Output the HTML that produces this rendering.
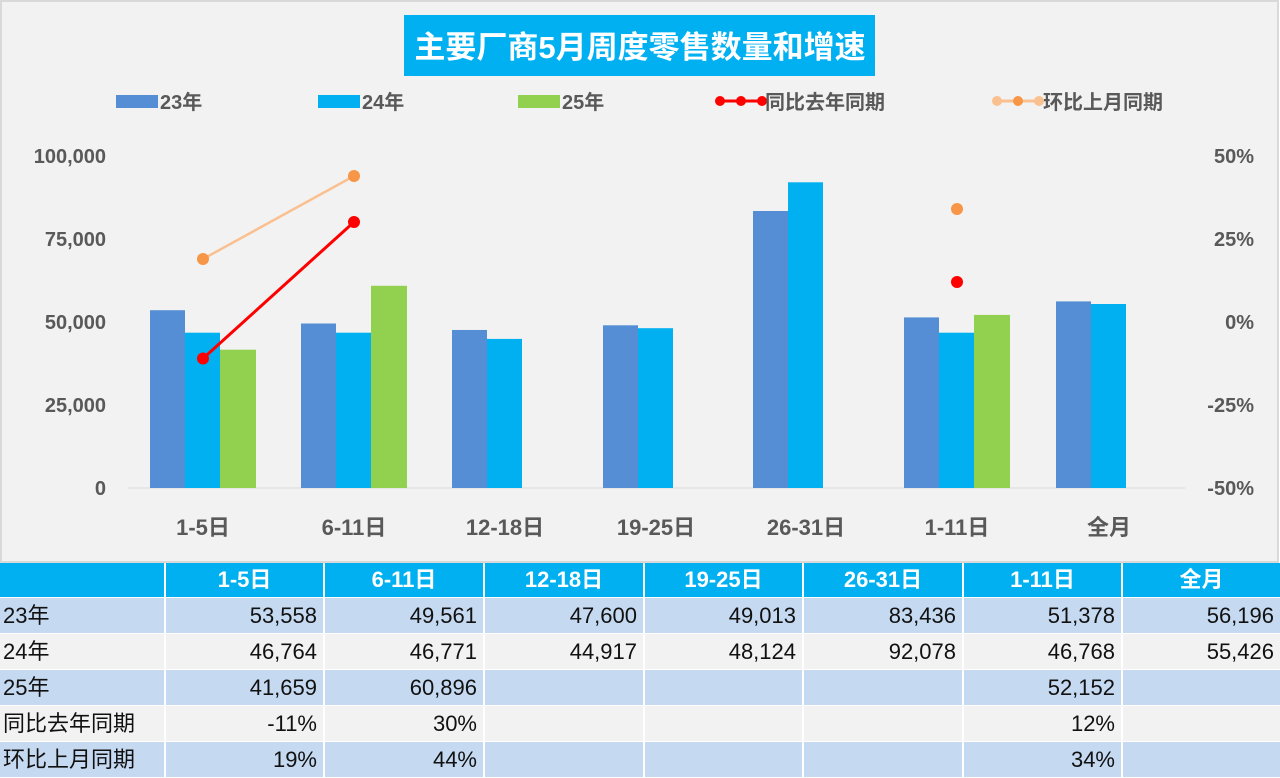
<!DOCTYPE html>
<html><head><meta charset="utf-8"><style>
body{margin:0;width:1280px;height:776px;background:#fff;overflow:hidden;font-family:"Liberation Sans","Noto Sans CJK SC",sans-serif}
.t{position:absolute;left:0;top:563px;width:1280px}
.r{display:flex;gap:2px;margin-bottom:1px}
.r div{box-sizing:border-box;height:35px;line-height:36px;font-size:22px;color:#111;text-align:right;padding-right:6px;background:#c5d9f1}
.r.w div{background:#f2f2f2}
.r.h div{background:#00b0f0;color:#fff;font-weight:bold;text-align:center;padding:0;height:34px;line-height:34px}
.r div:nth-child(1){width:164px;text-align:left;padding-left:3px}
.r div:nth-child(2){width:157px}.r div:nth-child(3){width:158px}.r div:nth-child(4){width:158px}
.r div:nth-child(5){width:157px}.r div:nth-child(6){width:158px}.r div:nth-child(7){width:157px}.r div:nth-child(8){width:157px}
</style></head><body>
<svg width="1280" height="563" style="position:absolute;left:0;top:0" font-family="Liberation Sans,Noto Sans CJK SC,sans-serif">
<rect x="1" y="1" width="1277" height="561" fill="#f2f2f2" stroke="#d9d9d9" stroke-width="2"/>
<rect x="404" y="15" width="471" height="61" fill="#00b0f0"/>
<text x="640" y="58" font-size="31" font-weight="bold" fill="#fff" text-anchor="middle">主要厂商5月周度零售数量和增速</text>
<g font-size="20" font-weight="bold" fill="#595959">
<rect x="116" y="95" width="42" height="13" fill="#558ed5"/><text x="160" y="109">23年</text>
<rect x="318" y="95" width="42" height="13" fill="#00b0f0"/><text x="362" y="109">24年</text>
<rect x="518" y="95" width="42" height="13" fill="#92d050"/><text x="562" y="109">25年</text>
<line x1="718" y1="101" x2="764" y2="101" stroke="#f00" stroke-width="3"/><circle cx="720" cy="101" r="5" fill="#f00"/><circle cx="741" cy="101" r="5" fill="#f00"/><circle cx="762" cy="101" r="5" fill="#f00"/><text x="765" y="109">同比去年同期</text>
<line x1="995" y1="101" x2="1041" y2="101" stroke="#fac090" stroke-width="3"/><circle cx="997" cy="101" r="5" fill="#fac090"/><circle cx="1018" cy="101" r="5" fill="#f79646"/><circle cx="1039" cy="101" r="5" fill="#fac090"/><text x="1043" y="109">环比上月同期</text>
</g>
<g font-size="20" font-weight="bold" fill="#595959">
<text x="106" y="163" text-anchor="end">100,000</text>
<text x="106" y="246" text-anchor="end">75,000</text>
<text x="106" y="329" text-anchor="end">50,000</text>
<text x="106" y="412" text-anchor="end">25,000</text>
<text x="106" y="495" text-anchor="end">0</text>
<text x="1254" y="163" text-anchor="end">50%</text>
<text x="1254" y="246" text-anchor="end">25%</text>
<text x="1254" y="329" text-anchor="end">0%</text>
<text x="1254" y="412" text-anchor="end">-25%</text>
<text x="1254" y="495" text-anchor="end">-50%</text>
<g font-size="22" text-anchor="middle">
<text x="203" y="535">1-5日</text><text x="354" y="535">6-11日</text><text x="505" y="535">12-18日</text><text x="656" y="535">19-25日</text><text x="806" y="535">26-31日</text><text x="957" y="535">1-11日</text><text x="1109" y="535">全月</text>
</g></g>
<line x1="128" y1="488" x2="1185" y2="488" stroke="#d9d9d9"/>
<g>
<rect x="150" y="310.2" width="35" height="177.8" fill="#558ed5"/><rect x="185" y="332.7" width="35" height="155.3" fill="#00b0f0"/><rect x="220" y="349.7" width="36" height="138.3" fill="#92d050"/>
<rect x="301" y="323.5" width="35" height="164.5" fill="#558ed5"/><rect x="336" y="332.7" width="35" height="155.3" fill="#00b0f0"/><rect x="371" y="285.8" width="36" height="202.2" fill="#92d050"/>
<rect x="452" y="329.96" width="35" height="158.04" fill="#558ed5"/><rect x="487" y="338.9" width="35" height="149.1" fill="#00b0f0"/>
<rect x="603" y="325.3" width="35" height="162.7" fill="#558ed5"/><rect x="638" y="328.2" width="35" height="159.8" fill="#00b0f0"/>
<rect x="753" y="211" width="35" height="277" fill="#558ed5"/><rect x="788" y="182.3" width="35" height="305.7" fill="#00b0f0"/>
<rect x="904" y="317.4" width="35" height="170.6" fill="#558ed5"/><rect x="939" y="332.7" width="35" height="155.3" fill="#00b0f0"/><rect x="974" y="314.9" width="36" height="173.1" fill="#92d050"/>
<rect x="1056" y="301.4" width="35" height="186.6" fill="#558ed5"/><rect x="1091" y="304" width="35" height="184" fill="#00b0f0"/>
</g>
<line x1="203" y1="259" x2="354" y2="176" stroke="#fac090" stroke-width="2.5"/>
<circle cx="203" cy="259" r="6" fill="#f79646"/><circle cx="354" cy="176" r="6" fill="#f79646"/><circle cx="957" cy="209" r="6" fill="#f79646"/>
<line x1="203" y1="358.5" x2="354" y2="222" stroke="#f00" stroke-width="3"/>
<circle cx="203" cy="358.5" r="6" fill="#f00"/><circle cx="354" cy="222" r="6" fill="#f00"/><circle cx="957" cy="282" r="6" fill="#f00"/>
</svg>
<div class="t">
<div class="r h"><div></div><div>1-5日</div><div>6-11日</div><div>12-18日</div><div>19-25日</div><div>26-31日</div><div>1-11日</div><div>全月</div></div>
<div class="r"><div>23年</div><div>53,558</div><div>49,561</div><div>47,600</div><div>49,013</div><div>83,436</div><div>51,378</div><div>56,196</div></div>
<div class="r w"><div>24年</div><div>46,764</div><div>46,771</div><div>44,917</div><div>48,124</div><div>92,078</div><div>46,768</div><div>55,426</div></div>
<div class="r"><div>25年</div><div>41,659</div><div>60,896</div><div></div><div></div><div></div><div>52,152</div><div></div></div>
<div class="r w"><div>同比去年同期</div><div>-11%</div><div>30%</div><div></div><div></div><div></div><div>12%</div><div></div></div>
<div class="r"><div>环比上月同期</div><div>19%</div><div>44%</div><div></div><div></div><div></div><div>34%</div><div></div></div>
</div>
</body></html>
